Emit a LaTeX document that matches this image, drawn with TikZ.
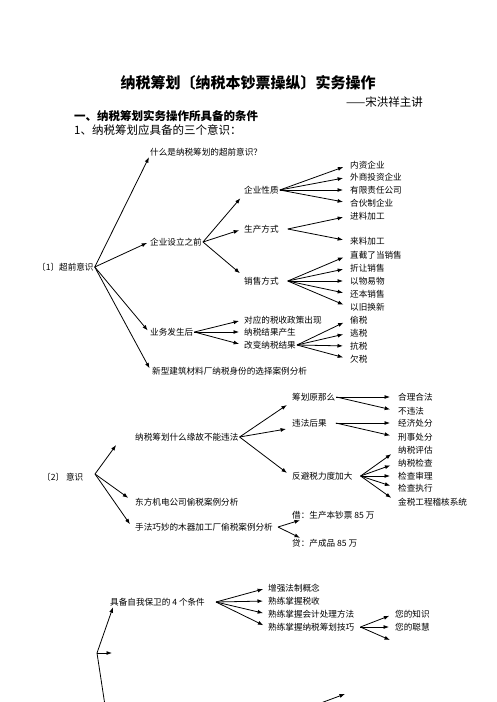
\documentclass[tikz,border=0pt]{standalone}
\usepackage{fontspec}
\setmainfont{Noto Sans CJK SC}
\usetikzlibrary{arrows.meta}
\begin{document}
\begin{tikzpicture}[x=1pt, y=-1pt,
            every node/.style={inner sep=1pt, anchor=west, font=\fontsize{8.6}{10}\selectfont},
            arr/.style={-{Latex[length=5.5pt,width=4pt]}, line width=0.8pt, shorten >=#1},
            arr/.default=0pt]
    \useasboundingbox (0,0) rectangle (496,702);
    \clip (0,0) rectangle (496,702);
    % heading
    \node[anchor=center, font=\bfseries\fontsize{15}{18}\selectfont] (title) at (248,83) {纳税筹划〔纳税本钞票操纵〕实务操作};
    \node[anchor=east, font=\fontsize{11.5}{13}\selectfont] (speaker) at (424,102) {——宋洪祥主讲};
    \node[font=\bfseries\fontsize{11.5}{13}\selectfont] (part) at (73,116) {一、纳税筹划实务操作所具备的条件};
    \node[font=\fontsize{11.5}{13}\selectfont] (three) at (73,130) {1、纳税筹划应具备的三个意识：};

    % (1) ahead of time
    \node (r1) at (36,267) {〔1〕超前意识};
    \node (what) at (149,152) {什么是纳税筹划的超前意识？};
    \node (before) at (149,242) {企业设立之前};
    \node (nature) at (243,190) {企业性质};
    \node (prod) at (243,229) {生产方式};
    \node (sales) at (243,281) {销售方式};
    \node (n1) at (349,165) {内资企业};
    \node (n2) at (349,177) {外商投资企业};
    \node (n3) at (349,190) {有限责任公司};
    \node (n4) at (349,203) {合伙制企业};
    \node (p1) at (349,216) {进料加工};
    \node (p2) at (349,241) {来料加工};
    \node (s1) at (349,255) {直截了当销售};
    \node (s2) at (349,268) {折让销售};
    \node (s3) at (349,281) {以物易物};
    \node (s4) at (349,294) {还本销售};
    \node (s5) at (349,307) {以旧换新};
    \node (after) at (149,332) {业务发生后};
    \node (a1) at (243,320) {对应的税收政策出现};
    \node (a2) at (243,332) {纳税结果产生};
    \node (a3) at (243,345) {改变纳税结果};
    \node (t1) at (349,320) {偷税};
    \node (t2) at (349,333) {逃税};
    \node (t3) at (349,346) {抗税};
    \node (t4) at (349,359) {欠税};
    \node (case1) at (151,371) {新型建筑材料厂纳税身份的选择案例分析};

    \draw[arr] (r1.east) -- (what.south west);
    \draw[arr=2pt] (r1.east) -- (before.west);
    \draw[arr=2pt] (r1.east) -- (after.west);
    \draw[arr=3pt] (r1.east) -- (case1.west);
    \draw[arr=4pt] (before.east) -- (nature.south west);
    \draw[arr=4pt] (before.east) -- (prod.west);
    \draw[arr=4pt] (before.east) -- (sales.north west);
    \foreach \k in {n1,n2,n3,n4}
        \draw[arr=6pt] (nature.east) -- (\k.west);
    \foreach \k in {p1,p2}
        \draw[arr=6pt] ([xshift=8pt]prod.east) -- (\k.west);
    \foreach \k in {s1,s2,s3,s4,s5}
        \draw[arr=6pt] ([xshift=8pt]sales.east) -- (\k.west);
    \foreach \k in {a1,a2,a3}
        \draw[arr=4pt] (after.east) -- (\k.west);
    \foreach \k in {t1,t2,t3,t4}
        \draw[arr=6pt] (a3.east) -- (\k.west);

    % (2) awareness
    \node (r2) at (41,477) {〔2〕\ 意识};
    \coordinate (r2hub) at (95,474);
    \node (why) at (134,437) {纳税筹划什么缘故不能违法};
    \node (rule) at (291,397) {筹划原那么};
    \node (illegal) at (291,423) {违法后果};
    \node (anti) at (291,476) {反避税力度加大};
    \node (l1) at (397,397) {合理合法};
    \node (l2) at (397,411) {不违法};
    \node (l3) at (397,423) {经济处分};
    \node (l4) at (397,437) {刑事处分};
    \node (l5) at (397,450) {纳税评估};
    \node (l6) at (397,463) {纳税检查};
    \node (l7) at (397,476) {检查审理};
    \node (l8) at (397,488) {检查执行};
    \node (l9) at (397,502) {金税工程稽核系统};
    \node (east) at (134,502) {东方机电公司偷税案例分析};
    \node (wood) at (134,527) {手法巧妙的木器加工厂偷税案例分析};
    \node (debit) at (291,515) {借：生产本钞票 85 万};
    \node (credit) at (291,543) {贷：产成品 85 万};

    \draw[arr=10pt] (r2hub) -- ([xshift=-12pt]why.west);
    \draw[arr=7pt] (r2hub) -- (east.west);
    \draw[arr=7pt] (r2hub) -- ([yshift=-3pt]wood.west);
    \draw[arr=5pt] (why.east) -- (rule.south west);
    \draw[arr=5pt] (why.east) -- (illegal.south west);
    \draw[arr=5pt] (why.east) -- (anti.west);
    \foreach \k in {l1,l2}
        \draw[arr=7pt] (rule.east) -- (\k.west);
    \foreach \k in {l3,l4}
        \draw[arr=7pt] ([xshift=8pt]illegal.east) -- (\k.west);
    \foreach \k in {l5,l6,l7,l8,l9}
        \draw[arr=7pt] ([xshift=7pt]anti.east) -- (\k.west);
    \draw[arr] ([xshift=4pt]wood.east) -- ([xshift=9pt]debit.south west);
    \draw[arr] ([xshift=4pt]wood.east) -- ([xshift=9pt]credit.north west);

    % (3) self protection
    \coordinate (r3hub) at (97,653);
    \coordinate (r3right) at (112,653);
    \coordinate (r3down) at (106,712);
    \node (cond) at (109,602) {具备自我保卫的 4 个条件};
    \node (c1) at (267,588) {增强法制概念};
    \node (c2) at (267,601) {熟练掌握税收};
    \node (c3) at (267,614) {熟练掌握会计处理方法};
    \node (c4) at (267,627) {熟练掌握纳税筹划技巧};
    \node (k1) at (394,614) {您的知识};
    \node (k2) at (394,627) {您的聪慧};
    \coordinate (k3) at (390,640);
    \coordinate (lowA) at (310,707);
    \coordinate (lowB) at (345,694);

    \draw[arr] (r3hub) -- ([xshift=4pt]cond.south west);
    \draw[arr] (r3hub) -- (r3right);
    \draw[line width=0.8pt] (r3hub) -- (r3down);
    \foreach \k in {c1,c2,c3,c4}
        \draw[arr=4pt] ([xshift=10pt]cond.east) -- (\k.west);
    \draw[arr=5pt] ([xshift=5pt]c4.east) -- (k1.west);
    \draw[arr=5pt] ([xshift=5pt]c4.east) -- (k2.west);
    \draw[arr] ([xshift=5pt]c4.east) -- (k3);
    \draw[arr] (lowA) -- (lowB);
\end{tikzpicture}
\end{document}
